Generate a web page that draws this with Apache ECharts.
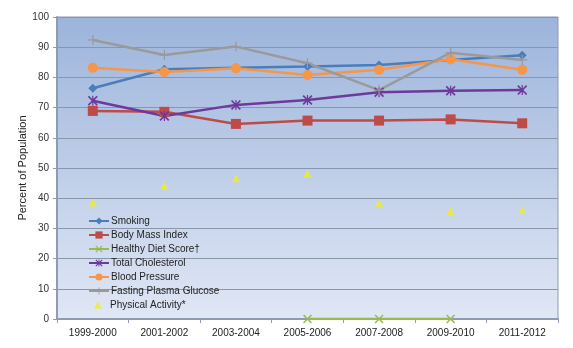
<!DOCTYPE html>
<html>
<head>
<meta charset="utf-8">
<script src="https://cdn.jsdelivr.net/npm/echarts@6/dist/echarts.min.js"></script>
<style>
  html, body { margin: 0; padding: 0; background: #ffffff; }
  #chart { width: 573px; height: 348px; }
</style>
</head>
<body>
<div id="chart"></div>
<script>
// Survey periods
const periods = ['1999-2000', '2001-2002', '2003-2004', '2005-2006', '2007-2008', '2009-2010', '2011-2012'];

// Percent of population meeting each ideal health metric
const smoking = [76.4, 82.7, 83.2, 83.6, 84.1, 85.8, 87.3];
const bodyMassIndex = [68.9, 68.6, 64.6, 65.7, 65.7, 66.1, 64.8];
const healthyDietScore = [null, null, null, 0, 0, 0, null];
const totalCholesterol = [72.3, 67.2, 70.9, 72.5, 75.1, 75.6, 75.8];
const bloodPressure = [83.2, 81.8, 83.0, 80.8, 82.5, 86.0, 82.5];
const fastingPlasmaGlucose = [92.4, 87.4, 90.2, 84.7, 75.8, 88.2, 85.8];
const physicalActivity = [38.6, 44.1, 46.6, 48.2, 38.3, 35.8, 36.1];

const yTicks = { min: 0, max: 100, interval: 10 };

// Marker shapes
const crossX = 'path://M1.2,0L5,3.8L8.8,0L10,1.2L6.2,5L10,8.8L8.8,10L5,6.2L1.2,10L0,8.8L3.8,5L0,1.2Z';
const asterisk = 'path://M1.2,0L5,3.8L8.8,0L10,1.2L6.2,5L10,8.8L8.8,10L5,6.2L1.2,10L0,8.8L3.8,5L0,1.2ZM4.4,0H5.6V10H4.4Z';
const plus = 'path://M4.4,0H5.6V4.4H10V5.6H5.6V10H4.4V5.6H0V4.4H4.4Z';

function lineSeries(name, data, color, symbol, size) {
  return {
    name: name,
    type: 'line',
    data: data,
    symbol: symbol,
    symbolSize: size,
    showSymbol: true,
    connectNulls: false,
    itemStyle: { color: color },
    lineStyle: { color: color, width: 2.5 },
    emphasis: { disabled: true },
    z: 3
  };
}

const legendText = { fontSize: 10, color: '#222222' };

const chart = echarts.init(document.getElementById('chart'), null, { renderer: 'canvas' });

chart.setOption({
  animation: false,
  textStyle: { fontFamily: 'Liberation Sans, Arial, sans-serif' },
  grid: {
    left: 57, right: 15, top: 17, bottom: 29,
    show: true,
    borderWidth: 1,
    borderColor: '#8e9bb0',
    backgroundColor: new echarts.graphic.LinearGradient(0, 0, 0, 1, [
      { offset: 0, color: '#9cb4db' },
      { offset: 1, color: '#e0e7f5' }
    ])
  },
  legend: [
    {
      orient: 'vertical',
      left: 88,
      top: 216,
      itemWidth: 20,
      itemHeight: 9,
      itemGap: 4,
      padding: 0,
      textStyle: Object.assign({ padding: [0, 0, 0, -3] }, legendText),
      data: ['Smoking', 'Body Mass Index', 'Healthy Diet Score\u2020', 'Total Cholesterol', 'Blood Pressure', 'Fasting Plasma Glucose']
    },
    {
      orient: 'vertical',
      left: 94,
      top: 300,
      itemWidth: 8,
      itemHeight: 7,
      padding: 0,
      textStyle: Object.assign({ padding: [0, 0, 0, 3] }, legendText),
      data: ['Physical Activity*']
    }
  ],
  xAxis: {
    type: 'category',
    data: periods,
    boundaryGap: true,
    axisLine: { lineStyle: { color: '#8e9bb0', width: 2 } },
    axisTick: { show: true, length: 4, lineStyle: { color: '#8e9bb0' } },
    axisLabel: { fontSize: 10, color: '#222222', margin: 9 },
    splitLine: { show: false }
  },
  yAxis: {
    type: 'value',
    min: yTicks.min,
    max: yTicks.max,
    interval: yTicks.interval,
    name: 'Percent of Population',
    nameLocation: 'middle',
    nameGap: 29,
    nameMoveOverlap: false,
    nameTextStyle: { fontSize: 11, color: '#222222' },
    axisLine: { show: true, lineStyle: { color: '#8e9bb0', width: 2 } },
    axisTick: { show: true, length: 4, lineStyle: { color: '#8e9bb0' } },
    axisLabel: { fontSize: 10, color: '#333333', margin: 8 },
    splitLine: { show: true, lineStyle: { color: '#8a96aa', width: 1 } }
  },
  series: [
    lineSeries('Smoking', smoking, '#4a7ebb', 'diamond', 9),
    lineSeries('Body Mass Index', bodyMassIndex, '#be4b48', 'rect', 10),
    lineSeries('Healthy Diet Score\u2020', healthyDietScore, '#98b954', crossX, 9),
    lineSeries('Total Cholesterol', totalCholesterol, '#6d3a9c', asterisk, 10),
    lineSeries('Blood Pressure', bloodPressure, '#f79646', 'circle', 10),
    lineSeries('Fasting Plasma Glucose', fastingPlasmaGlucose, '#9a9a9a', plus, 10),
    {
      name: 'Physical Activity*',
      type: 'scatter',
      data: physicalActivity,
      symbol: 'triangle',
      symbolSize: 8,
      itemStyle: { color: '#eeee22' },
      emphasis: { disabled: true },
      z: 3
    }
  ]
});
</script>
</body>
</html>
